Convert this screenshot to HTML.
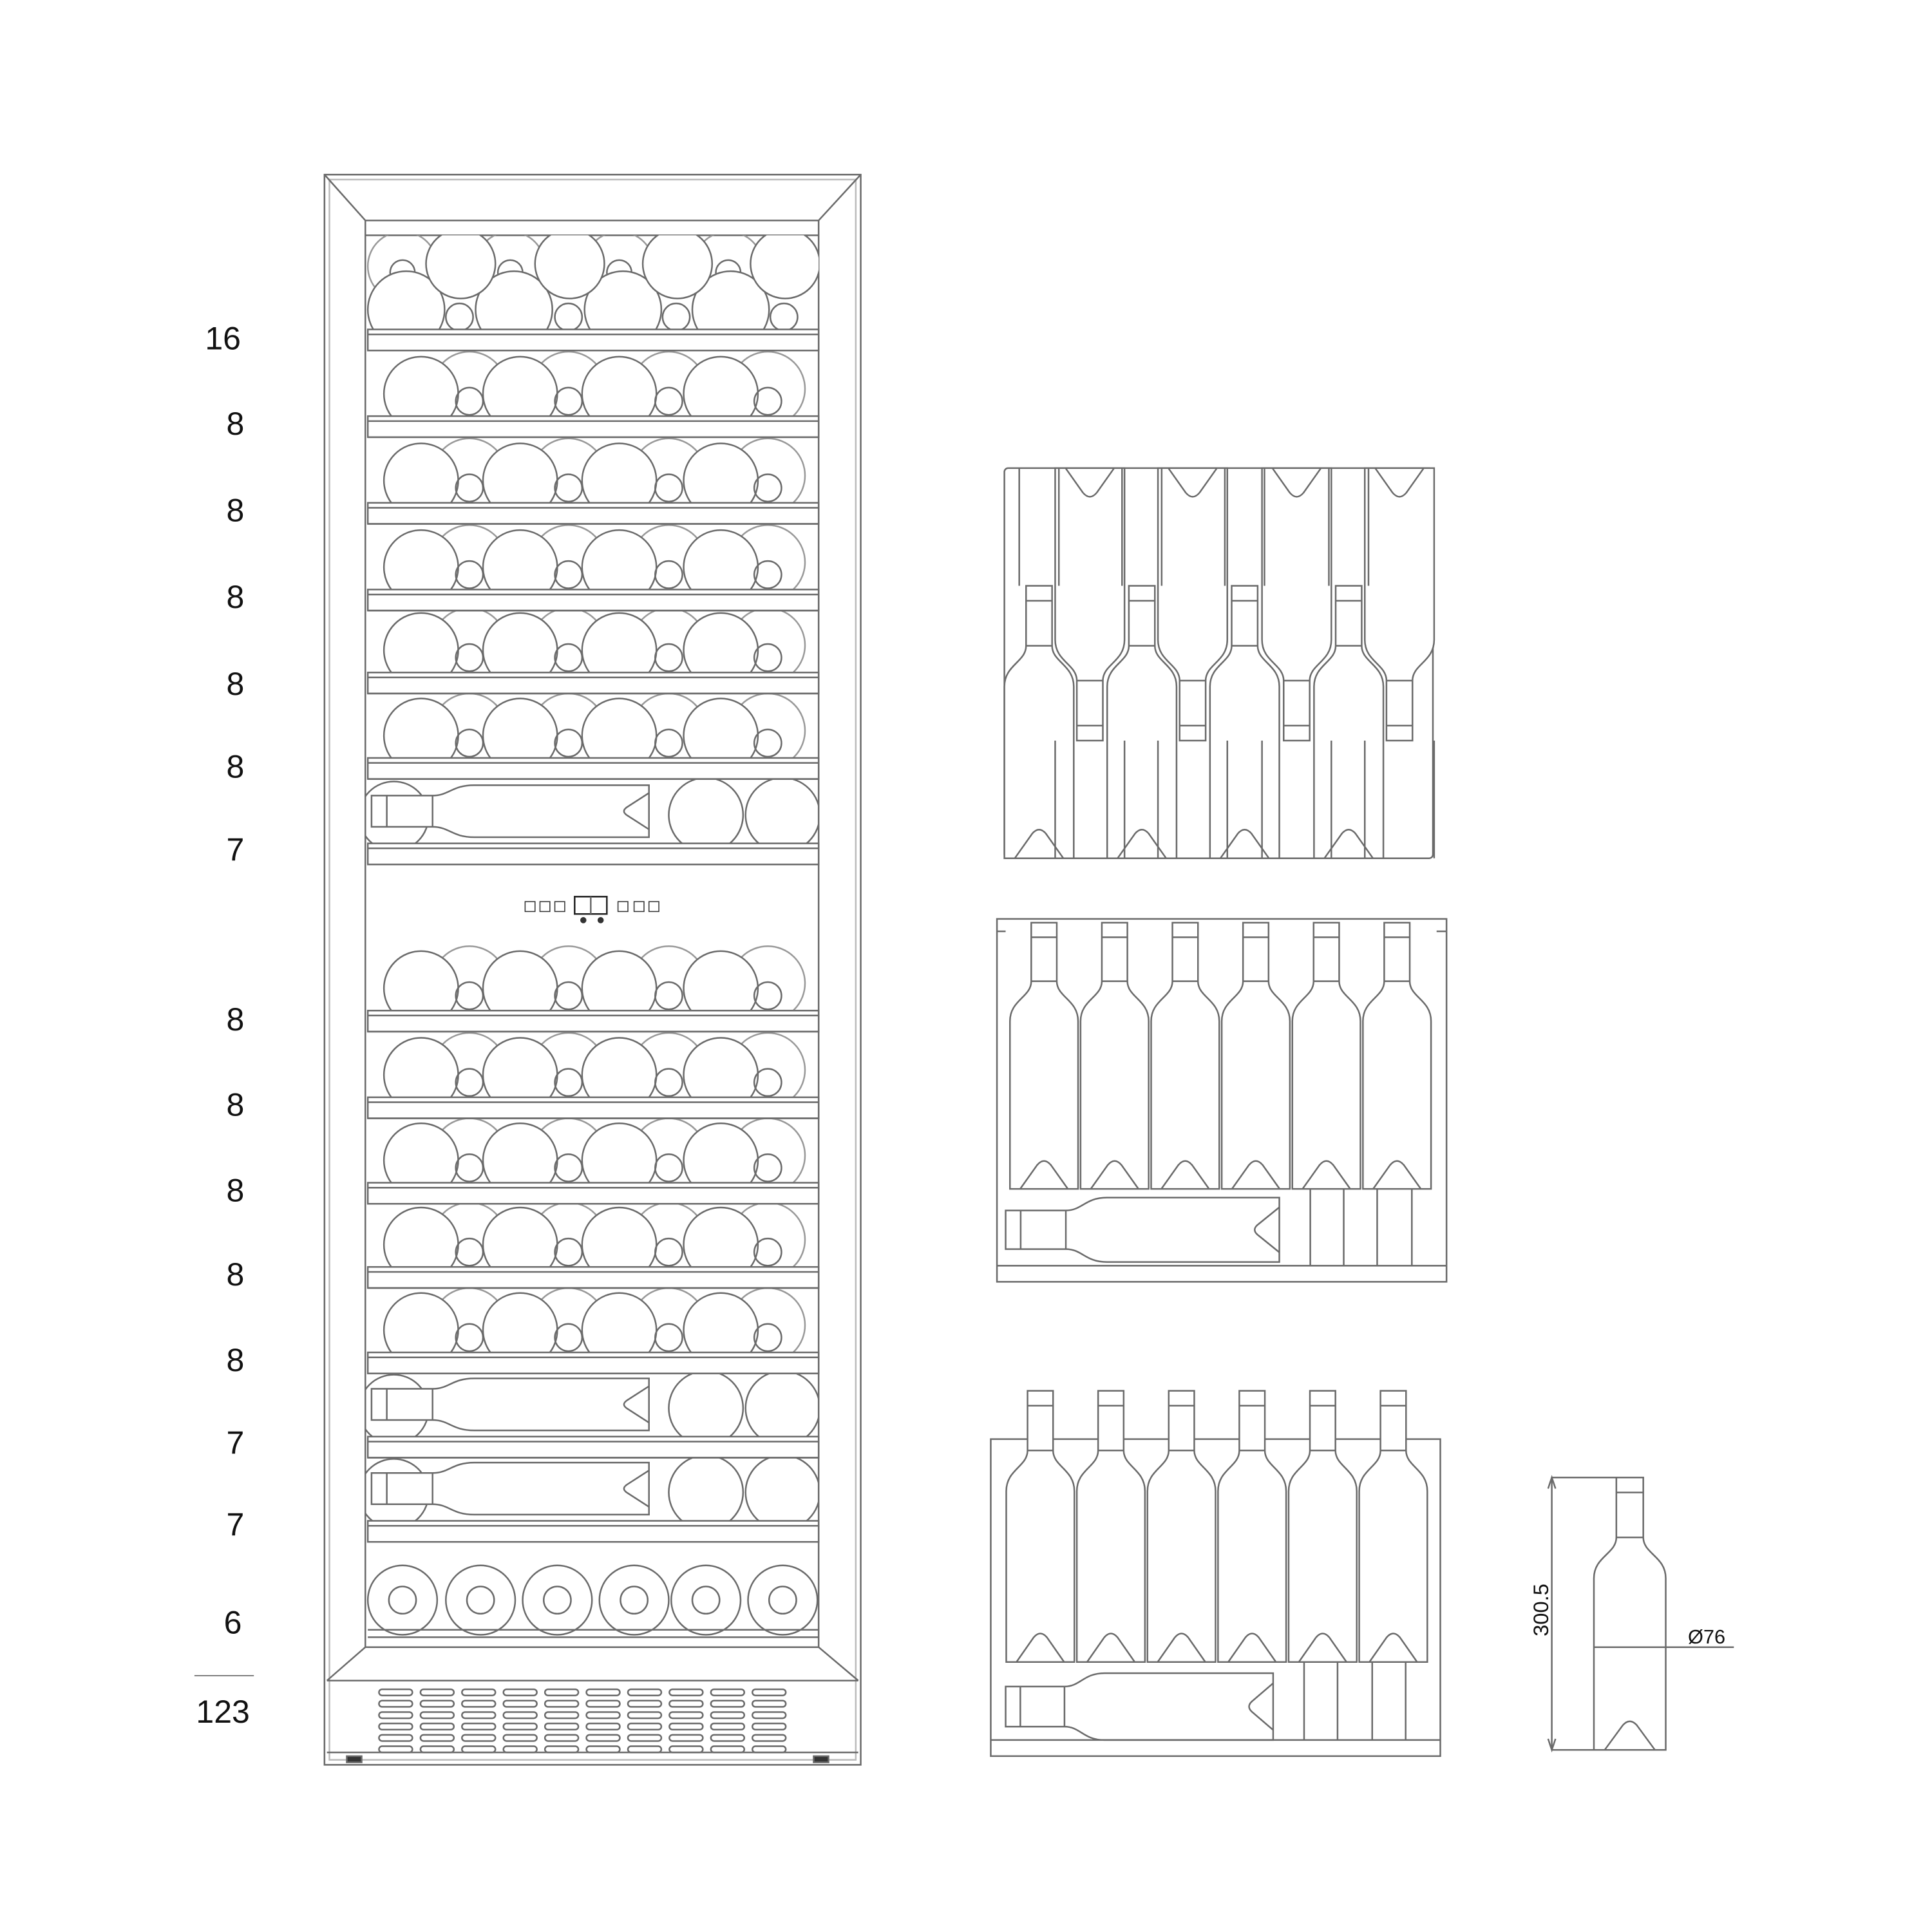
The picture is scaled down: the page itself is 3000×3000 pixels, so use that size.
<!DOCTYPE html>
<html><head><meta charset="utf-8"><style>
html,body{margin:0;padding:0;background:#fff}
svg{display:block}
text{font-family:"Liberation Sans",sans-serif;fill:#111}
</style></head><body>
<svg id="s" width="3000" height="3000" viewBox="0 0 1560 1560" xmlns="http://www.w3.org/2000/svg">
<g id="g" fill="none" stroke="#6a6a6a" stroke-width="1.3"></g>
<g font-size="26">
<text x="180" y="282" text-anchor="middle">16</text>
<text x="190" y="351" text-anchor="middle">8</text>
<text x="190" y="421" text-anchor="middle">8</text>
<text x="190" y="491" text-anchor="middle">8</text>
<text x="190" y="561" text-anchor="middle">8</text>
<text x="190" y="628" text-anchor="middle">8</text>
<text x="190" y="695" text-anchor="middle">7</text>
<text x="190" y="832" text-anchor="middle">8</text>
<text x="190" y="901" text-anchor="middle">8</text>
<text x="190" y="970" text-anchor="middle">8</text>
<text x="190" y="1038" text-anchor="middle">8</text>
<text x="190" y="1107" text-anchor="middle">8</text>
<text x="190" y="1174" text-anchor="middle">7</text>
<text x="190" y="1240" text-anchor="middle">7</text>
<text x="188" y="1319" text-anchor="middle">6</text>
<text x="180" y="1391" text-anchor="middle">123</text>
</g>
<line x1="157" y1="1353" x2="205" y2="1353" stroke="#777" stroke-width="1"/>
<text x="1250" y="1300" font-size="17" transform="rotate(-90 1250 1300)" text-anchor="middle">300.5</text>
<text x="1378" y="1327" font-size="16" text-anchor="middle">Ø76</text>
</svg>
<script>
var g=document.getElementById('g'),h='';
function L(a,b,c,d){h+='<line x1="'+a+'" y1="'+b+'" x2="'+c+'" y2="'+d+'"/>';}
function R(x,y,w,hh,ex){h+='<rect x="'+x+'" y="'+y+'" width="'+w+'" height="'+hh+'" '+(ex||'')+'/>';}
function C(x,y,r,ex){h+='<circle cx="'+x+'" cy="'+y+'" r="'+r+'" '+(ex||'')+'/>';}
function P(d,ex){h+='<path d="'+d+'" '+(ex||'')+'/>';}
function bottle(cx,top,bot,w,inv){
 var H=bot-top,nw=w*0.375/2,hw=w/2;
 function y(f){return inv?bot-f*H:top+f*H;}
 var d='M'+(cx-nw)+','+y(0)+' L'+(cx+nw)+','+y(0)+' L'+(cx+nw)+','+y(0.22)+
 ' C'+(cx+nw)+','+y(0.28)+' '+(cx+hw)+','+y(0.29)+' '+(cx+hw)+','+y(0.37)+
 ' L'+(cx+hw)+','+y(1)+' L'+(cx-hw)+','+y(1)+' L'+(cx-hw)+','+y(0.37)+
 ' C'+(cx-hw)+','+y(0.29)+' '+(cx-nw)+','+y(0.28)+' '+(cx-nw)+','+y(0.22)+' Z';
 P(d,'fill="#fff"');
 L(cx-nw,y(0.055),cx+nw,y(0.055));L(cx-nw,y(0.22),cx+nw,y(0.22));
 P('M'+(cx-w*0.35)+','+y(1)+' L'+(cx-w*0.1)+','+y(0.91)+' Q'+cx+','+y(0.88)+' '+(cx+w*0.1)+','+y(0.91)+' L'+(cx+w*0.35)+','+y(1));
}
function lying(x0,x1,cy,hh){
 var L2=x1-x0,nh=hh*0.3,hw=hh/2;
 function x(f){return x0+f*L2;}
 P('M'+x(0)+','+(cy-nh)+' L'+x(0.22)+','+(cy-nh)+' C'+x(0.28)+','+(cy-nh)+' '+x(0.29)+','+(cy-hw)+' '+x(0.37)+','+(cy-hw)+
 ' L'+x(1)+','+(cy-hw)+' L'+x(1)+','+(cy+hw)+' L'+x(0.37)+','+(cy+hw)+' C'+x(0.29)+','+(cy+hw)+' '+x(0.28)+','+(cy+nh)+' '+x(0.22)+','+(cy+nh)+' L'+x(0)+','+(cy+nh)+' Z','fill="#fff"');
 L(x(0.055),cy-nh,x(0.055),cy+nh);L(x(0.22),cy-nh,x(0.22),cy+nh);
 P('M'+x(1)+','+(cy-hw*0.7)+' L'+x(0.92)+','+(cy-hw*0.15)+' Q'+x(0.9)+','+cy+' '+x(0.92)+','+(cy+hw*0.15)+' L'+x(1)+','+(cy+hw*0.7));
}
R(262,141,433,1284);R(266,145,425,1276,'stroke="#bbb"');
L(262,141,295,178);L(695,141,661,178);
R(295,178,366,1152);L(295,190,661,190);
function rail(y){R(297,y,364,17,'fill="#fff"');L(297,y+4,661,y+4);L(297,y+17,661,y+17);}
var rails=[266,336,406,476,543,612,681,816,886,955,1023,1092,1160,1228];
h+='<g clip-path="url(#c0)">';
[325,412,500,588].forEach(function(x){C(x,215,28,'stroke="#999"');C(x,220,10);});
[328,415,503,590].forEach(function(x){C(x,250,31,'fill="#fff"');});
[371,459,546,633].forEach(function(x){C(x,256,11,'fill="#fff"');});
[372,460,547,634].forEach(function(x){C(x,213,28,'fill="#fff"');});
h+='</g>';
var rowBot=[336,406,476,543,612,816,886,955,1023,1092];
rowBot.forEach(function(b,i){
 h+='<g clip-path="url(#c'+(i+1)+')">';
 [379,459,540,620].forEach(function(x){C(x,b-22,30,'stroke="#999"');});
 [340,420,500,582].forEach(function(x){C(x,b-18,30,'fill="#fff"');});
 [379,459,540,620].forEach(function(x){C(x,b-12,11);});
 h+='</g>';
});
[681,1160,1228].forEach(function(b,i){
 h+='<g clip-path="url(#d'+i+')">';
 C(318,b-22,28);lying(300,524,b-26,42);
 C(570,b-23,30);C(632,b-23,30);
 h+='</g>';
});
rails.forEach(rail);
[428,440,452,503,516,528].forEach(function(x){R(x-4,728,8,8,'stroke="#333" stroke-width="0.8"');});
R(464,724,26,14,'stroke="#222"');L(477,724,477,738);C(471,743,2.5,'fill="#333" stroke="none"');C(485,743,2.5,'fill="#333" stroke="none"');
[325,388,450,512,570,632].forEach(function(x){C(x,1292,28);C(x,1292,11);});
L(297,1316,661,1316);L(297,1322,661,1322);L(297,1330,661,1330);
L(295,1330,264,1357);L(661,1330,693,1357);
L(264,1357,693,1357);L(264,1415,693,1415);
for(var c=0;c<10;c++)for(var r=0;r<6;r++)R(306+c*33.5,1364+r*9.2,27,5,'rx="2.5"');
R(280,1418,12,5,'fill="#333"');R(657,1418,12,5,'fill="#333"');
R(811,378,346,315,'rx="3"');
[839,922,1005,1089].forEach(function(x){bottle(x,473,693,56,false);});
[880,963,1047,1130].forEach(function(x){bottle(x,378,598,56,true);L(x-28,598,x-28,693);L(x+28,598,x+28,693);});
[839,922,1005,1089].forEach(function(x){L(x-16,378,x-16,473);L(x+16,378,x+16,473);});
P('M805,742 L1168,742 L1168,1035 L805,1035 Z');
[843,900,957,1014,1071,1128].forEach(function(x){bottle(x,745,960,55,false);});
lying(812,1033,993,52);
[1058,1085,1112,1140].forEach(function(x){L(x,960,x,1022);});
L(805,1022,1168,1022);L(805,752,812,752);L(1160,752,1168,752);
P('M800,1162 L1163,1162 L1163,1418 L800,1418 Z');
[840,897,954,1011,1068,1125].forEach(function(x){bottle(x,1123,1342,55,false);});
lying(812,1028,1378,54);
[1053,1080,1108,1135].forEach(function(x){L(x,1342,x,1405);});
L(800,1405,1163,1405);
bottle(1316,1193,1413,58,false);
L(1253,1193,1310,1193);L(1253,1413,1290,1413);L(1253,1193,1253,1413);
P('M1250,1202 L1253,1193 L1256,1202 M1250,1404 L1253,1413 L1256,1404');
L(1287,1330,1400,1330);
var defs='<defs><clipPath id="c0"><rect x="295" y="190" width="366" height="76"/></clipPath>';
rowBot.forEach(function(b,i){defs+='<clipPath id="c'+(i+1)+'"><rect x="295" y="'+(b-60)+'" width="366" height="60"/></clipPath>';});
[681,1160,1228].forEach(function(b,i){defs+='<clipPath id="d'+i+'"><rect x="295" y="'+(b-52)+'" width="366" height="52"/></clipPath>';});
defs+='</defs>';
g.innerHTML=defs+h;
</script>
</body></html>
